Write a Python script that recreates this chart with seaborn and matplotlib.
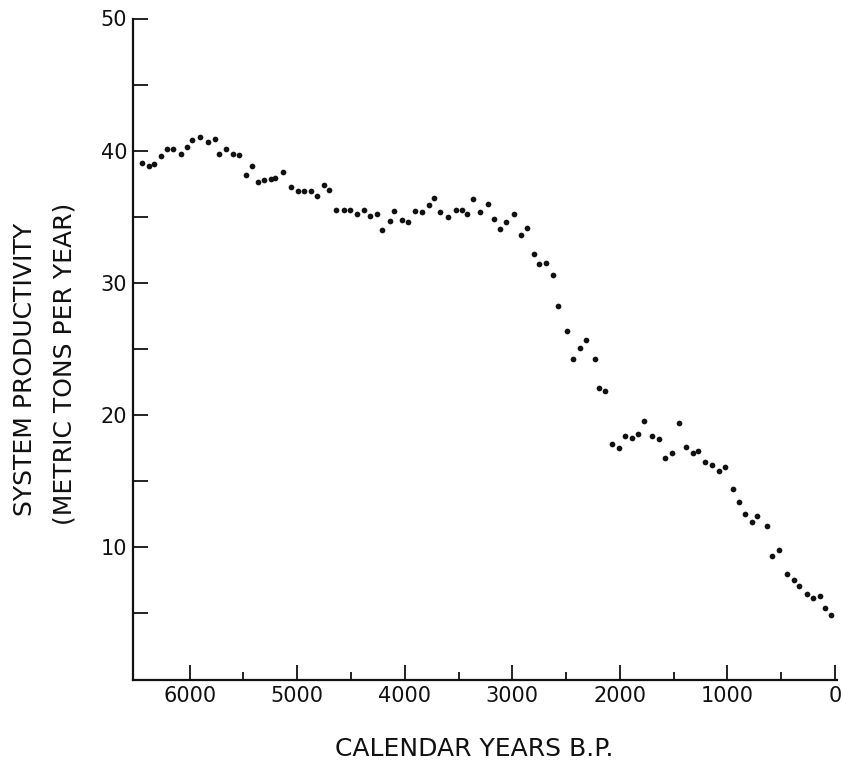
import matplotlib
matplotlib.use("Agg")
import matplotlib.pyplot as plt
import seaborn as sns
import pandas as pd
import numpy as np

# Calendar years B.P.
years = [6448, 6377, 6331, 6268, 6210, 6154, 6082, 6024, 5977, 5908,
         5834, 5766, 5729, 5661, 5601, 5540, 5478, 5422, 5369, 5307,
         5245, 5205, 5131, 5059, 4997, 4935, 4870, 4817, 4755, 4706,
         4638, 4569, 4510, 4445, 4380, 4324, 4262, 4210, 4138, 4098,
         4030, 3971, 3906, 3838, 3773, 3726, 3671, 3602, 3522, 3472,
         3419, 3366, 3299, 3230, 3174, 3118, 3060, 2988, 2923, 2867,
         2802, 2753, 2688, 2625, 2576, 2495, 2434, 2368, 2318, 2235,
         2195, 2136, 2074, 2009, 1950, 1888, 1835, 1773, 1699, 1639,
         1581, 1518, 1451, 1385, 1323, 1271, 1209, 1141, 1079, 1020,
         948, 892, 837, 774, 725, 635, 583, 523, 449, 384,
         334, 263, 207, 142, 90, 40]

# System productivity (metric tons per year)
productivity = [39.05, 38.84, 39.02, 39.6, 40.15, 40.15, 39.77, 40.26, 40.79, 41.06,
                40.66, 40.86, 39.77, 40.1, 39.77, 39.65, 38.14, 38.84, 37.63, 37.76,
                37.86, 37.93, 38.39, 37.25, 36.95, 36.95, 36.93, 36.57, 37.38, 37.03,
                35.49, 35.49, 35.54, 35.19, 35.51, 35.06, 35.23, 33.98, 34.71, 35.46,
                34.73, 34.61, 35.41, 35.36, 35.92, 36.42, 35.34, 35.01, 35.54, 35.54,
                35.23, 36.32, 35.39, 35.99, 34.81, 34.08, 34.63, 35.23, 33.6, 34.13,
                32.16, 31.45, 31.48, 30.62, 28.28, 26.38, 24.22, 25.08, 25.7, 24.24,
                22.07, 21.82, 17.79, 17.51, 18.42, 18.27, 18.57, 19.58, 18.44, 18.17,
                16.75, 17.16, 19.4, 17.61, 17.16, 17.31, 16.45, 16.23, 15.79, 16.1,
                14.39, 13.45, 12.52, 11.89, 12.37, 11.63, 9.32, 9.8, 7.96, 7.53,
                7.07, 6.47, 6.19, 6.32, 5.43, 4.9]

x_major = [6000, 5000, 4000, 3000, 2000, 1000, 0]
x_minor = [5500, 4500, 3500, 2500, 1500, 500]
y_ticks = [5, 10, 15, 20, 25, 30, 35, 40, 45, 50]
y_labels = ["", "10", "", "20", "", "30", "", "40", "", "50"]

x_title = "CALENDAR YEARS B.P."
y_title_1 = "SYSTEM PRODUCTIVITY"
y_title_2 = "(METRIC TONS PER YEAR)"

df = pd.DataFrame({"year": years, "prod": productivity})

sns.set_style("ticks")
plt.rcParams["font.family"] = ["DejaVu Sans"]

W, H = 843, 761
fig = plt.figure(figsize=(W / 100, H / 100), dpi=100)
left_px, right_px = 132.7, 837.0
bottom_px, top_px = 679.5, 18.5
ax = fig.add_axes([left_px / W, 1 - bottom_px / H,
                   (right_px - left_px) / W, (bottom_px - top_px) / H])

sns.scatterplot(data=df, x="year", y="prod", ax=ax, color="#111111",
                s=17, linewidth=0, legend=False)

ax.set_xlim(6530, -20)
ax.set_ylim(0, 50)

for side in ["top", "right"]:
    ax.spines[side].set_visible(False)
for side in ["left", "bottom"]:
    ax.spines[side].set_linewidth(1.6)
    ax.spines[side].set_color("#111111")

ax.set_xticks(x_major)
ax.set_xticklabels([str(v) for v in x_major])
ax.set_xticks(x_minor, minor=True)
ax.set_yticks(y_ticks)
ax.set_yticklabels(y_labels)

ax.tick_params(axis="x", which="major", direction="in", length=11, width=1.3,
               pad=5, labelsize=15, colors="#111111")
ax.tick_params(axis="x", which="minor", direction="in", length=6, width=1.3,
               colors="#111111")
ax.tick_params(axis="y", which="major", direction="in", length=11, width=1.3,
               pad=4, labelsize=15, colors="#111111")

ax.set_xlabel("")
ax.set_ylabel("")

fig.text(474 / W, 1 - 749 / H, x_title, ha="center", va="center",
         fontsize=18, color="#111111")
fig.text(25 / W, 1 - 369 / H, y_title_1, ha="center", va="center",
         rotation=90, fontsize=18, color="#111111")
fig.text(65 / W, 1 - 364 / H, y_title_2, ha="center", va="center",
         rotation=90, fontsize=18, color="#111111")

fig.savefig("out.png", dpi=100)
